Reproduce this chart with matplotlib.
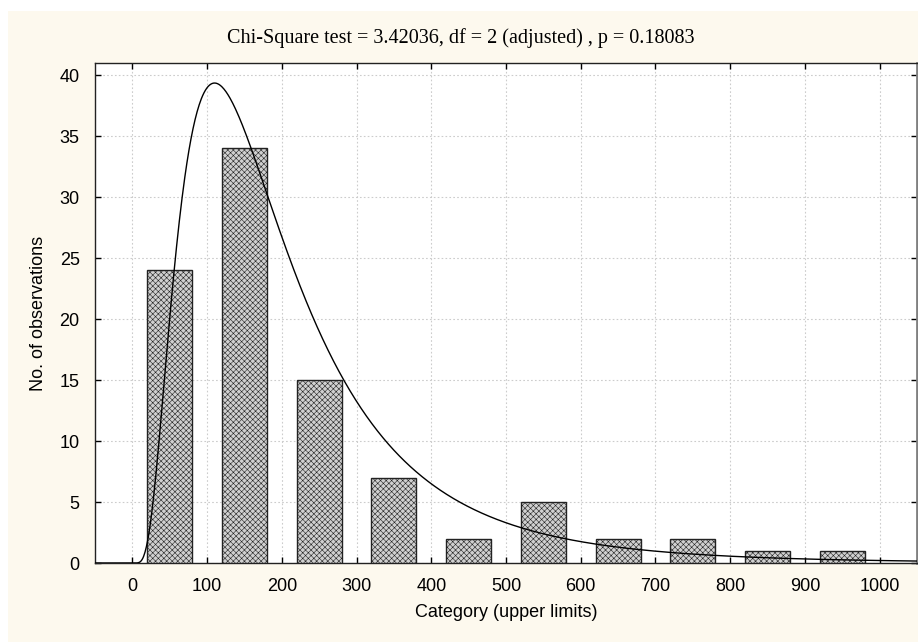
import numpy as np
import matplotlib.pyplot as plt
from matplotlib.patches import Rectangle

# histogram data (bins of width 100, bars centred on each bin)
bin_centers = [50, 150, 250, 350, 450, 550, 650, 750, 850, 950]
counts = [24, 34, 15, 7, 2, 5, 2, 2, 1, 1]
x_ticks = [0, 100, 200, 300, 400, 500, 600, 700, 800, 900, 1000]
y_ticks = [0, 5, 10, 15, 20, 25, 30, 35, 40]

# fitted log-normal curve (parameters)
ln_mu = 5.163
ln_sigma = 0.68
bin_width = 100

title = 'Chi-Square test = 3.42036, df = 2 (adjusted) , p = 0.18083'

plt.rcParams['hatch.color'] = '#b8b8b8'
plt.rcParams['hatch.linewidth'] = 0.4

fig = plt.figure(figsize=(9.18, 6.42), dpi=100)
fig.patch.set_facecolor('white')
fig.patches.append(Rectangle((8 / 918, 0), 1, 631 / 642, transform=fig.transFigure,
                             facecolor='#fdf9ee', edgecolor='none', zorder=-10))

ax = fig.add_axes([95 / 918, 79 / 642, 822 / 918, 500 / 642])
ax.set_facecolor('white')

ax.bar(bin_centers, counts, width=60, facecolor='#d0d0d0', edgecolor='#222222',
       linewidth=1.0, hatch='xxxxxx', zorder=3)

n_total = sum(counts)
xs = np.linspace(-50, 1050, 1200)
ys = np.zeros_like(xs)
pos = xs > 0
ys[pos] = (n_total * bin_width / (xs[pos] * ln_sigma * np.sqrt(2 * np.pi))
           * np.exp(-(np.log(xs[pos]) - ln_mu) ** 2 / (2 * ln_sigma ** 2)))
ax.plot(xs, ys, color='black', linewidth=1.0, zorder=4)

ax.set_xlim(-50, 1050)
ax.set_ylim(0, 41)
ax.set_xticks(x_ticks)
ax.set_yticks(y_ticks)
ax.grid(True, linestyle=(0, (1.5, 2)), color='#cccccc', linewidth=0.8, zorder=0)
ax.set_axisbelow(True)

ax.tick_params(direction='in', length=4, width=1, top=True, right=True,
               labelsize=13, pad=11)
for lab in ax.get_xticklabels() + ax.get_yticklabels():
    lab.set_fontfamily('Liberation Sans')

for side in ['left', 'bottom', 'top']:
    ax.spines[side].set_color('#222222')
    ax.spines[side].set_linewidth(1.0)
ax.spines['right'].set_color('#808080')
ax.spines['right'].set_linewidth(2.0)

ax.set_xlabel('Category (upper limits)', fontsize=13, fontfamily='Liberation Sans', labelpad=6)
ax.set_ylabel('No. of observations', fontsize=13, fontfamily='Liberation Sans', labelpad=9)

fig.text(0.502, 1 - 38 / 642, title, ha='center', va='center',
         fontsize=14.5, fontfamily='Liberation Serif')

fig.savefig('out.png', dpi=100, facecolor=fig.get_facecolor())
